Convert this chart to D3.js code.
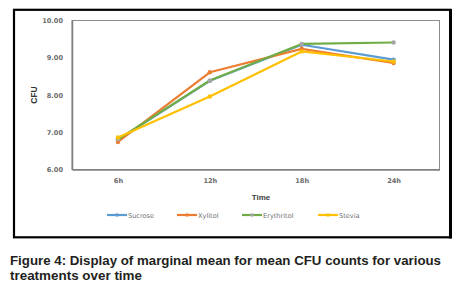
<!DOCTYPE html>
<html lang="en">
<head>
<meta charset="UTF-8">
<title>CFU over time</title>
<style>
  body { margin: 0; background: #fff; }
</style>
</head>
<body>
<script src="https://d3js.org/d3.v7.min.js"></script>
<script>
    const times = ["6h", "12h", "18h", "24h"];
    const yTicks = [6, 7, 8, 9, 10];
    const sucrose = [6.80, 8.38, 9.35, 8.95];
    const xylitol = [6.74, 8.61, 9.24, 8.86];
    const erythritol = [6.81, 8.39, 9.37, 9.41];
    const stevia = [6.86, 7.96, 9.17, 8.90];

    const series = [
        {name: "Sucrose", values: sucrose, line: "#5b9bd5", dot: "#5b9bd5"},
        {name: "Xylitol", values: xylitol, line: "#ed7d31", dot: "#ed7d31"},
        {name: "Erythritol", values: erythritol, line: "#70ad47", dot: "#a5a5a5"},
        {name: "Stevia", values: stevia, line: "#ffc000", dot: "#ffc000"}
    ];

    const width = 459, height = 293;
    const plot = {left: 72, top: 20.5, right: 439.5, bottom: 169.5};

    const svg = d3.select("body").append("svg")
        .attr("width", width)
        .attr("height", height)
        .style("display", "block");

    // outer frame
    svg.append("rect")
        .attr("x", 14).attr("y", 9.8)
        .attr("width", 436.5).attr("height", 227.5)
        .attr("fill", "none").attr("stroke", "#000").attr("stroke-width", 2.2);
    svg.append("line")
        .attr("x1", 450.5).attr("x2", 450.5).attr("y1", 9).attr("y2", 238.5)
        .attr("stroke", "#000").attr("stroke-width", 3);

    const x = d3.scalePoint()
        .domain(times)
        .range([plot.left, plot.right])
        .padding(0.5);

    const y = d3.scaleLinear()
        .domain([6, 10])
        .range([plot.bottom, plot.top]);

    // plot area border
    svg.append("rect")
        .attr("x", plot.left).attr("y", plot.top)
        .attr("width", plot.right - plot.left).attr("height", plot.bottom - plot.top)
        .attr("fill", "none").attr("stroke", "#8c8c8c").attr("stroke-width", 1);

    const yAxis = svg.append("g")
        .attr("transform", `translate(${plot.left},0)`)
        .call(d3.axisLeft(y).tickValues(yTicks).tickSize(0).tickPadding(9).tickFormat(d3.format(".2f")));
    yAxis.select(".domain").attr("stroke", "#7f7f7f").attr("stroke-width", 1.5);
    yAxis.selectAll("text")
        .attr("font-family", "DejaVu Sans, sans-serif")
        .attr("font-size", 6.6).attr("font-weight", "bold").attr("fill", "#6b6b6b");

    const xAxis = svg.append("g")
        .attr("transform", `translate(0,${plot.bottom})`)
        .call(d3.axisBottom(x).tickSize(0).tickPadding(9));
    xAxis.select(".domain").attr("stroke", "#7f7f7f").attr("stroke-width", 1.5);
    xAxis.selectAll("text")
        .attr("font-family", "DejaVu Sans, sans-serif")
        .attr("font-size", 6.6).attr("font-weight", "bold").attr("fill", "#6b6b6b");

    // axis titles
    svg.append("text")
        .attr("transform", "translate(37,95) rotate(-90)")
        .attr("text-anchor", "middle")
        .attr("font-family", "Liberation Sans, Arial, sans-serif")
        .attr("font-size", 8.5).attr("font-weight", "bold").attr("fill", "#333")
        .text("CFU");
    svg.append("text")
        .attr("x", 261).attr("y", 200)
        .attr("text-anchor", "middle")
        .attr("font-family", "Liberation Sans, Arial, sans-serif")
        .attr("font-size", 8).attr("font-weight", "bold").attr("fill", "#404040")
        .text("Time");

    const line = d3.line()
        .x((d, i) => x(times[i]))
        .y(d => y(d));

    series.forEach(s => {
        svg.append("path")
            .datum(s.values)
            .attr("fill", "none")
            .attr("stroke", s.line)
            .attr("stroke-width", 2.2)
            .attr("stroke-linejoin", "round")
            .attr("d", line);
        svg.selectAll(null)
            .data(s.values)
            .enter().append("circle")
            .attr("cx", (d, i) => x(times[i]))
            .attr("cy", d => y(d))
            .attr("r", 2.2)
            .attr("fill", s.dot);
    });

    // legend
    const legendX = [107, 177, 242, 318];
    const legend = svg.append("g").attr("transform", "translate(0,215)");
    series.forEach((s, i) => {
        const g = legend.append("g").attr("transform", `translate(${legendX[i]},0)`);
        g.append("line").attr("x1", 0).attr("x2", 20).attr("y1", 0).attr("y2", 0)
            .attr("stroke", s.line).attr("stroke-width", 2.2);
        g.append("circle").attr("cx", 10).attr("cy", 0).attr("r", 1.8).attr("fill", s.dot);
        g.append("text").attr("x", 21).attr("y", 2.5)
            .attr("font-family", "DejaVu Sans, sans-serif")
            .attr("font-size", 6.6).attr("fill", "#707070")
            .text(s.name);
    });

    // caption
    const caption = ["Figure 4: Display of marginal mean for mean CFU counts for various",
        "treatments over time"];
    svg.append("text")
        .attr("x", 10).attr("y", 265)
        .attr("font-family", "Liberation Sans, Arial, sans-serif")
        .attr("font-size", 13).attr("font-weight", "bold").attr("fill", "#231f20")
        .attr("textLength", 431).attr("lengthAdjust", "spacingAndGlyphs")
        .text(caption[0]);
    svg.append("text")
        .attr("x", 10).attr("y", 280)
        .attr("font-family", "Liberation Sans, Arial, sans-serif")
        .attr("font-size", 13).attr("font-weight", "bold").attr("fill", "#231f20")
        .attr("textLength", 132).attr("lengthAdjust", "spacingAndGlyphs")
        .text(caption[1]);
</script>
</body>
</html>
